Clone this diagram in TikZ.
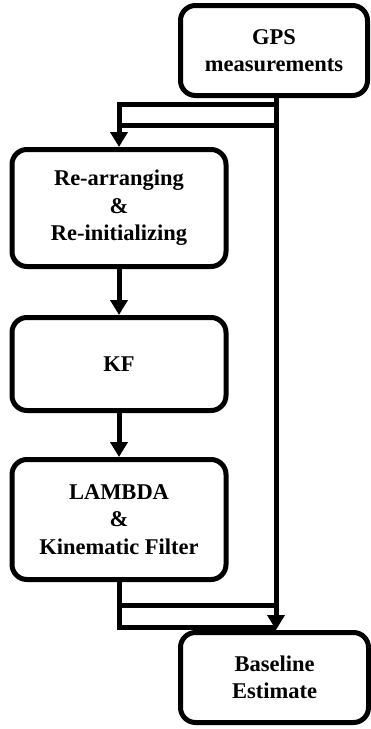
\documentclass[tikz,border=0pt]{standalone}
\usepackage{fontspec}
\setmainfont{Liberation Serif}
\usetikzlibrary{arrows.meta}
\begin{document}
\begin{tikzpicture}[x=1pt,y=-1pt,
 box/.style={draw, line width=5pt, rounded corners=15pt, align=center, inner sep=0pt,
   font=\fontsize{22.5}{27.5}\selectfont\bfseries},
 conn/.style={line width=5pt},
 arr/.style={conn, -{Triangle[width=17pt,length=15pt]}}]
\useasboundingbox (0,0) rectangle (371,729);
\node[box, minimum width=187pt, minimum height=90pt] (gps) at (274,50.5) {GPS\\measurements};
\node[box, minimum width=214pt, minimum height=117pt] (re) at (119,208) {Re-arranging\\\&\\Re-initializing};
\node[box, minimum width=214pt, minimum height=93pt] (kf) at (119,364) {KF};
\node[box, minimum width=214pt, minimum height=120pt] (lam) at (119,519.5) {LAMBDA\\\&\\Kinematic Filter};
\node[box, minimum width=188pt, minimum height=90pt] (base) at (274.5,677.5) {Baseline\\Estimate};
\coordinate (rv) at (276,0);
\coordinate (a1) at (276,104);
\coordinate (a2) at (119,104);
\coordinate (b1) at (276,125.5);
\coordinate (b2) at (119,125.5);
\coordinate (c1) at (276,627.5);
\coordinate (c2) at (119,627.5);
\coordinate (d1) at (276,605);
\coordinate (d2) at (119,605);
\draw[arr] (gps.south -| rv) -- (base.north -| rv);
\draw[arr] (a1) -- (a2) -- (re.north);
\draw[conn] (b2) -- (b1);
\draw[arr] (re.south) -- (kf.north);
\draw[arr] (kf.south) -- (lam.north);
\draw[conn] (lam.south) -- (c2) -- (c1);
\draw[conn] (d2) -- (d1);
\end{tikzpicture}
\end{document}
